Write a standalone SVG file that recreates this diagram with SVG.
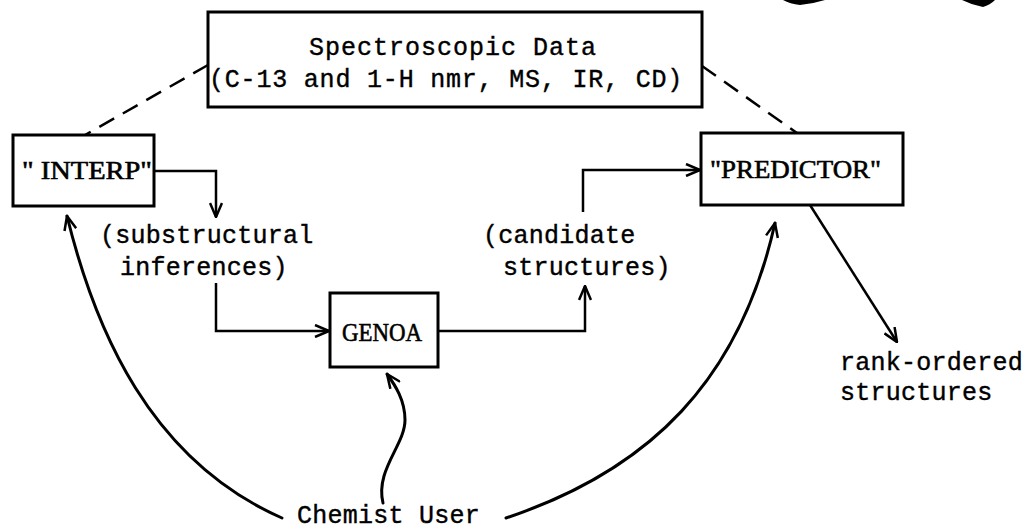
<svg xmlns="http://www.w3.org/2000/svg" width="1031" height="530" viewBox="0 0 1031 530">
<style>
.box{fill:#fff;stroke:#000;stroke-width:3}
.mono{font-family:"Liberation Mono","Courier New",monospace;font-size:25px;letter-spacing:0.25px;fill:#000;stroke:#000;stroke-width:0.4}
.serif{font-family:"Liberation Serif","Times New Roman",serif;font-size:26px;fill:#000;stroke:#000;stroke-width:0.6}
.ln{fill:none;stroke:#000;stroke-width:2.5;stroke-linejoin:miter}
.cv{fill:none;stroke:#000;stroke-width:3;stroke-linecap:round}
.dash{fill:none;stroke:#000;stroke-width:2.5;stroke-dasharray:17 10}
</style>
<defs>
<marker id="ah" viewBox="0 0 16 14" refX="15" refY="7" markerWidth="16" markerHeight="14" markerUnits="userSpaceOnUse" orient="auto">
<path d="M1,1 L15,7 L1,13" fill="none" stroke="#000" stroke-width="2.5"/>
</marker>
</defs>
<rect width="1031" height="530" fill="#fff"/>
<g id="artifacts" fill="#000">
<path d="M783,0 L825,0 Q812,4 800,5 Q790,4 783,0 Z"/>
<path d="M962,0 L995,0 Q990,5 983,7 Q972,5 962,0 Z"/>
</g>
<g id="connectors">
<path class="dash" d="M208,65 L85,135"/>
<path class="dash" d="M702,66 L797,133"/>
<path class="ln" d="M154,171 L216,171 L216,217" marker-end="url(#ah)"/>
<path class="ln" d="M216,283 L216,331 L329,331" marker-end="url(#ah)"/>
<path class="ln" d="M438,331 L585,331 L585,286" marker-end="url(#ah)"/>
<path class="ln" d="M583,212 L583,170 L700,170" marker-end="url(#ah)"/>
<path class="ln" d="M810,205 L897,342" marker-end="url(#ah)"/>
<path class="cv" d="M282,518 C150,460 95,330 67,216" marker-end="url(#ah)"/>
<path class="cv" d="M383,503 C375,470 405,445 405,420 C405,400 395,385 387,374" marker-end="url(#ah)"/>
<path class="cv" d="M506,518 C650,470 740,380 775,223" marker-end="url(#ah)"/>
</g>
<g id="spectro">
<rect class="box" x="208" y="12" width="494" height="95"/>
<text class="mono" x="309" y="55" style="letter-spacing:1px">Spectroscopic Data</text>
<text class="mono" x="209" y="87" style="letter-spacing:0.8px">(C-13 and 1-H nmr, MS, IR, CD)</text>
</g>
<g id="interp">
<rect class="box" x="13" y="135" width="141" height="71"/>
<text class="serif" x="22" y="179" textLength="130" lengthAdjust="spacingAndGlyphs">" INTERP"</text>
</g>
<g id="predictor">
<rect class="box" x="701" y="133" width="202" height="72"/>
<text class="serif" x="710" y="178" textLength="171" lengthAdjust="spacingAndGlyphs">"PREDICTOR"</text>
</g>
<g id="genoa">
<rect class="box" x="330" y="293" width="108" height="74"/>
<text class="serif" x="342" y="341" textLength="80" lengthAdjust="spacingAndGlyphs">GENOA</text>
</g>
<g id="labels">
<text class="mono" x="100" y="243">(substructural</text>
<text class="mono" x="120" y="275">inferences)</text>
<text class="mono" x="483" y="243">(candidate</text>
<text class="mono" x="503" y="275">structures)</text>
<text class="mono" x="840" y="370">rank-ordered</text>
<text class="mono" x="840" y="400">structures</text>
<text class="mono" x="297" y="523">Chemist User</text>
</g>
</svg>
